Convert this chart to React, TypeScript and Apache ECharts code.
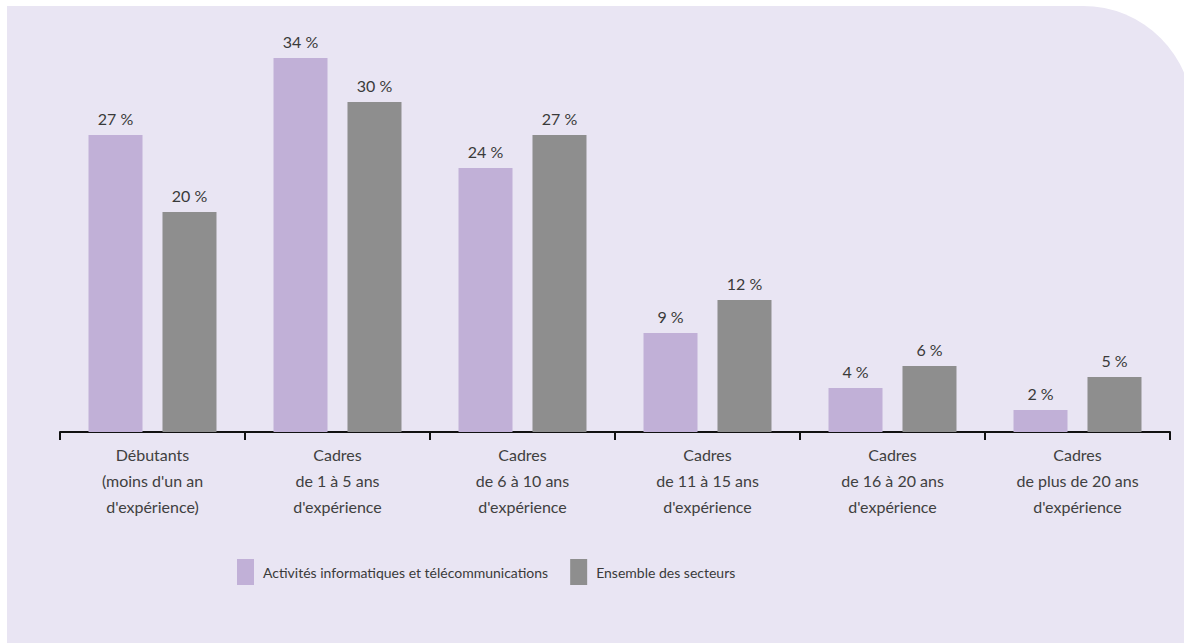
import React, { useEffect, useRef } from "react";
import * as echarts from "echarts";

const categories = [
  "Débutants\n(moins d'un an\nd'expérience)",
  "Cadres\nde 1 à 5 ans\nd'expérience",
  "Cadres\nde 6 à 10 ans\nd'expérience",
  "Cadres\nde 11 à 15 ans\nd'expérience",
  "Cadres\nde 16 à 20 ans\nd'expérience",
  "Cadres\nde plus de 20 ans\nd'expérience",
];
const seriesNames = ["Activités informatiques et télécommunications", "Ensemble des secteurs"];
const infoTelecom = [27, 34, 24, 9, 4, 2];
const allSectors = [20, 30, 27, 12, 6, 5];

const FONT = "Lato, 'Open Sans', sans-serif";

export default function App() {
  const ref = useRef<HTMLDivElement>(null);
  useEffect(() => {
    document.body.style.margin = "0";
    const chart = echarts.init(ref.current!, null, { renderer: "svg" });
    const labelStyle = {
      show: true,
      position: "top" as const,
      distance: 9,
      color: "#3a3a3a",
      fontSize: 16,
      fontFamily: FONT,
      formatter: (p: any) => `${p.value} %`,
    };
    chart.setOption({
      animation: false,
      backgroundColor: "#ffffff",
      graphic: [
        {
          type: "rect",
          z: -10,
          silent: true,
          shape: { x: 7, y: 6, width: 1186, height: 700, r: [0, 110, 0, 0] },
          style: { fill: "#e9e5f3" },
        },
      ],
      grid: { left: 60, right: 14, top: 36, bottom: 211, containLabel: false },
      legend: {
        left: 232,
        top: 554,
        itemWidth: 17,
        itemHeight: 26,
        itemGap: 22,
        icon: "rect",
        textStyle: { color: "#3a3a3a", fontSize: 14, fontFamily: FONT, padding: [0, 0, 0, 4] },
        data: seriesNames,
      },
      xAxis: {
        type: "category",
        data: categories,
        axisLine: { lineStyle: { color: "#111", width: 2 } },
        axisTick: { show: true, length: 8, lineStyle: { color: "#111", width: 2 } },
        axisLabel: {
          color: "#404040",
          fontSize: 16,
          fontFamily: FONT,
          lineHeight: 26,
          margin: 9,
          interval: 0,
        },
      },
      yAxis: {
        type: "value",
        min: 0,
        max: 36,
        show: false,
        splitLine: { show: false },
      },
      series: [
        {
          name: seriesNames[0],
          type: "bar",
          data: infoTelecom,
          barWidth: 54,
          barGap: "37%",
          itemStyle: { color: "#c1b0d7" },
          label: labelStyle,
        },
        {
          name: seriesNames[1],
          type: "bar",
          data: allSectors,
          barWidth: 54,
          barGap: "37%",
          itemStyle: { color: "#8e8e8e" },
          label: labelStyle,
        },
      ],
    });
    return () => chart.dispose();
  }, []);
  return <div ref={ref} style={{ width: 1184, height: 643 }} />;
}
